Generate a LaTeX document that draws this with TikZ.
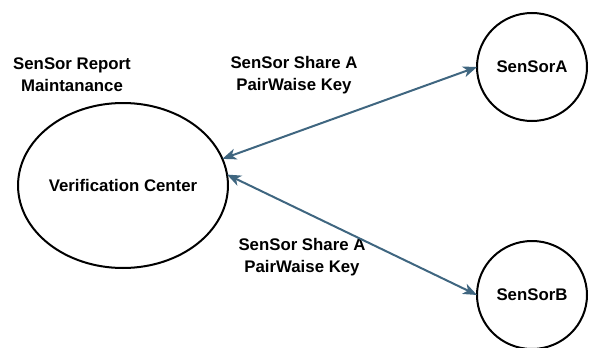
\documentclass[tikz,border=0pt]{standalone}
\usepackage{fontspec}
\setmainfont{Liberation Sans}
\usetikzlibrary{shapes.geometric,arrows.meta}
\definecolor{linkblue}{HTML}{3F6680}
\begin{document}
\begin{tikzpicture}[x=1pt,y=-1pt,
  every node/.style={font=\bfseries\fontsize{16.8}{22}\selectfont},
  circ/.style={ellipse,draw=black,line width=2pt,inner sep=0pt,outer sep=0pt},
  lbl/.style={align=center,inner sep=0pt},
  link/.style={draw=linkblue,line width=2pt,{Stealth[length=14pt,width=11pt,inset=4pt]}-{Stealth[length=14pt,width=11pt,inset=4pt]}}]
\useasboundingbox (0,0) rectangle (592,348);
\node[circ,minimum width=202pt,minimum height=165pt] (vc) at (123,185.5) {Verification Center};
\node[circ,minimum width=110pt,minimum height=108pt] (sa) at (532,67) {SenSorA};
\node[circ,minimum width=110pt,minimum height=108pt] (sb) at (532,295) {SenSorB};
\node[lbl] (rep) at (72,75) {SenSor Report\\Maintanance};
\node[lbl] (ka) at (294,75) {SenSor Share A\\PairWaise Key};
\node[lbl] (kb) at (302,257) {SenSor Share A\\PairWaise Key};
\draw[link] (vc.15) -- (sa.west);
\draw[link] (vc.6) -- (sb.west);
\end{tikzpicture}
\end{document}
